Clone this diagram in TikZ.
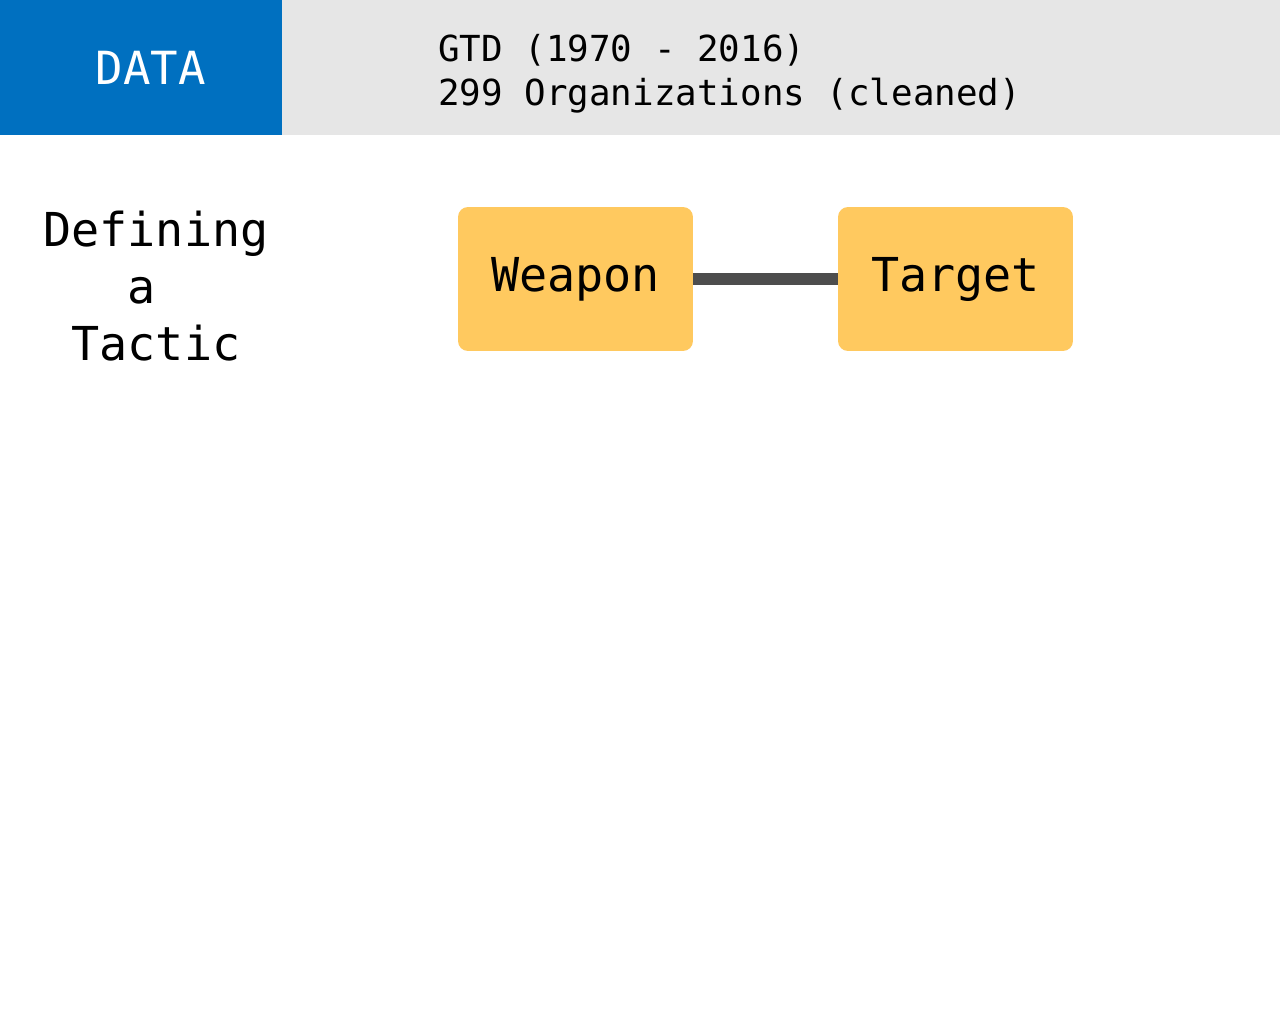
\documentclass[tikz,border=0pt]{standalone}
\usepackage{fontspec}
\newfontfamily\menlo{DejaVu Sans Mono}
\definecolor{hdblue}{HTML}{0070C0}
\definecolor{hdgray}{HTML}{E6E6E6}
\definecolor{boxyellow}{HTML}{FFC95F}
\definecolor{linkgray}{HTML}{4D4D4D}
\usetikzlibrary{positioning}

\begin{document}
\begin{tikzpicture}[x=0.02cm,y=-0.02cm,
    tacticbox/.style={fill=boxyellow,rounded corners=0.2cm,minimum width=4.7cm,
      minimum height=2.88cm,inner sep=0pt,font=\menlo\fontsize{26.6}{30}\selectfont},
    headtext/.style={anchor=base west,inner sep=0pt,font=\menlo\fontsize{20.4}{25}\selectfont}]
  \useasboundingbox (0,0) rectangle (1280,1024);
  % Header band
  \fill[hdgray] (282,0) rectangle (1280,135);
  \fill[hdblue] (0,0) rectangle (282,135);
  \node[anchor=base,inner sep=0pt,text=white,font=\menlo\fontsize{26}{30}\selectfont]
    (data) at (151,85) {DATA};
  \node[headtext] (gtd) at (438,62) {GTD (1970 - 2016)};
  \node[headtext] (orgs) at (438,106) {299 Organizations (cleaned)};
  % Title
  \node[align=center,inner sep=0pt,font=\menlo\fontsize{26.6}{32.6}\selectfont]
    (title) at (156,286) {Defining\\a\phantom{a}\\Tactic};
  % Weapon -- Target
  \node[tacticbox] (weapon) at (575.5,279) {Weapon};
  \node[tacticbox] (target) at (955.5,279) {Target};
  \draw[linkgray,line width=0.24cm] (weapon) -- (target);
\end{tikzpicture}
\end{document}
